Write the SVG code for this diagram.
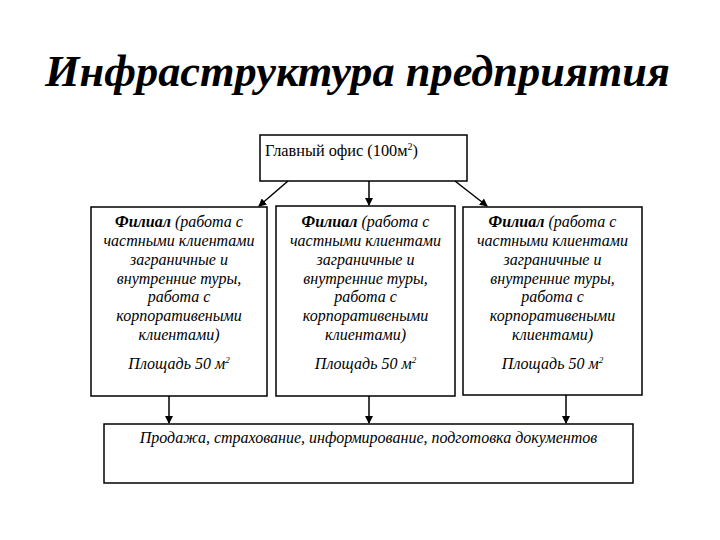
<svg xmlns="http://www.w3.org/2000/svg" width="720" height="540" viewBox="0 0 720 540">
<style>
.box{fill:#fff;stroke:#000;stroke-width:1.5}
.title{font-family:"Liberation Serif",serif;font-weight:bold;font-style:italic;font-size:44.4px;fill:#000}
.t{font-family:"Liberation Serif",serif;font-style:italic;font-size:16px;fill:#000;text-anchor:middle}
.u{font-family:"Liberation Serif",serif;font-size:16.3px;fill:#000}
.b{font-weight:bold}
.c{stroke:#000;stroke-width:1.5;fill:none;marker-end:url(#ah)}
</style>
<defs>
<marker id="ah" markerWidth="8" markerHeight="8" refX="7" refY="4" orient="auto" markerUnits="userSpaceOnUse">
<path d="M0,0 L8,4 L0,8 z" fill="#000"/>
</marker>
</defs>
<rect width="720" height="540" fill="#fff"/>
<text class="title" x="45" y="86">Инфраструктура предприятия</text>
<g id="main">
<rect class="box" x="260" y="135" width="207" height="46"/>
<text class="u" x="265" y="156">Главный офис (100м<tspan font-size="10" dy="-6">2</tspan><tspan dy="6">)</tspan></text>
</g>
<g id="branch1">
<rect class="box" x="91" y="207" width="176" height="189"/>
<text class="t" x="179" y="227"><tspan class="b">Филиал</tspan> (работа с</text>
<text class="t" x="179" y="246">частными клиентами</text>
<text class="t" x="179" y="265">заграничные и</text>
<text class="t" x="179" y="284">внутренние туры,</text>
<text class="t" x="179" y="302">работа с</text>
<text class="t" x="179" y="321">корпоративеными</text>
<text class="t" x="179" y="340">клиентами)</text>
<text class="t" x="179" y="369">Площадь 50  м<tspan font-size="9" dy="-6">2</tspan></text>
</g>
<g id="branch2">
<rect class="box" x="276" y="206" width="179" height="190"/>
<text class="t" x="365.5" y="227"><tspan class="b">Филиал</tspan> (работа с</text>
<text class="t" x="365.5" y="246">частными клиентами</text>
<text class="t" x="365.5" y="265">заграничные и</text>
<text class="t" x="365.5" y="284">внутренние туры,</text>
<text class="t" x="365.5" y="302">работа с</text>
<text class="t" x="365.5" y="321">корпоративеными</text>
<text class="t" x="365.5" y="340">клиентами)</text>
<text class="t" x="365.5" y="369">Площадь 50  м<tspan font-size="9" dy="-6">2</tspan></text>
</g>
<g id="branch3">
<rect class="box" x="463" y="207" width="179" height="188"/>
<text class="t" x="552.5" y="227"><tspan class="b">Филиал</tspan> (работа с</text>
<text class="t" x="552.5" y="246">частными клиентами</text>
<text class="t" x="552.5" y="265">заграничные и</text>
<text class="t" x="552.5" y="284">внутренние туры,</text>
<text class="t" x="552.5" y="302">работа с</text>
<text class="t" x="552.5" y="321">корпоративеными</text>
<text class="t" x="552.5" y="340">клиентами)</text>
<text class="t" x="552.5" y="369">Площадь 50  м<tspan font-size="9" dy="-6">2</tspan></text>
</g>
<g id="services">
<rect class="box" x="104" y="424" width="529" height="59"/>
<text class="t" x="368.5" y="443">Продажа, страхование, информирование, подготовка документов</text>
</g>
<g id="connectors">
<line class="c" x1="288" y1="181" x2="259" y2="206"/>
<line class="c" x1="369" y1="181" x2="369" y2="205"/>
<line class="c" x1="455" y1="181" x2="487" y2="206"/>
<line class="c" x1="169" y1="396" x2="169" y2="423"/>
<line class="c" x1="369" y1="396" x2="369" y2="423"/>
<line class="c" x1="566" y1="395" x2="566" y2="423"/>
</g>
</svg>
